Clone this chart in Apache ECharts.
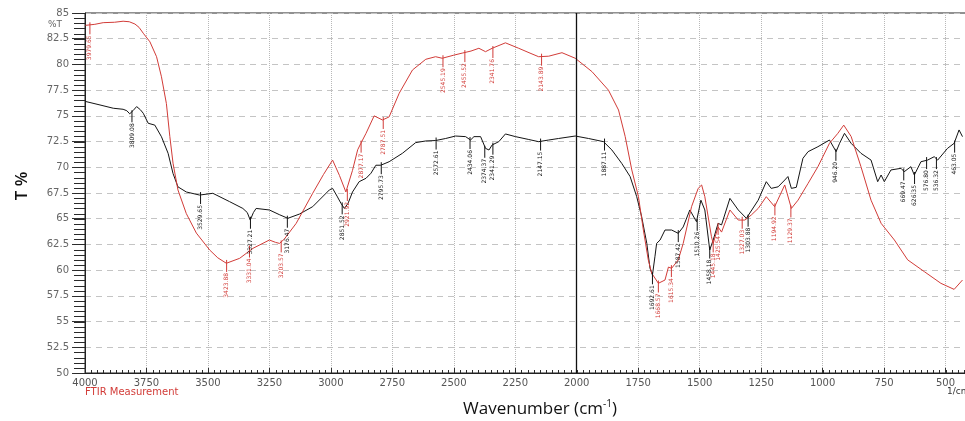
<!DOCTYPE html>
<html>
<head>
<meta charset="utf-8">
<script src="https://cdn.jsdelivr.net/npm/echarts@6/dist/echarts.min.js"></script>
<style>
html,body{margin:0;padding:0;background:#fff;overflow:hidden;width:965px;height:421px;}
#chart{width:1010px;height:421px;}
</style>
</head>
<body>
<div id="chart"></div>
<script>
// ---- data ----
const xTicks = [4000,3750,3500,3250,3000,2750,2500,2250,2000,1750,1500,1250,1000,750,500];
const yTicks = [85,82.5,80,77.5,75,72.5,70,67.5,65,62.5,60,57.5,55,52.5,50];

const redWn = [3998,3993,3960,3926,3880,3845,3820,3797,3780,3763,3736,3709,3689,3669,3655,3642,3622,3588,3547,3493,3460,3425,3371,3317,3250,3225,3209,3190,3141,3074,3030,2993,2965,2939,2912,2891,2878,2857,2824,2790,2763,2722,2668,2614,2574,2547,2500,2466,2430,2398,2371,2344,2290,2236,2190,2155,2114,2060,2006,1938,1871,1830,1803,1776,1749,1729,1709,1695,1668,1641,1627,1614,1587,1567,1533,1506,1492,1479,1452,1445,1425,1411,1377,1343,1316,1290,1262,1229,1195,1154,1127,1100,1059,1019,972,938,914,884,844,803,762,708,654,586,519,465,431];
const redT  = [83.8,83.83,83.9,84.06,84.1,84.2,84.15,83.93,83.6,83.03,82.2,80.75,78.8,76.2,73.0,70.4,67.8,65.5,63.6,61.96,61.2,60.67,61.15,62.12,62.93,62.7,62.6,63.0,64.55,67.47,69.3,70.7,69.2,67.6,69.7,71.7,72.33,73.3,75.0,74.6,74.9,77.2,79.46,80.5,80.75,80.6,80.9,81.1,81.3,81.57,81.24,81.57,82.1,81.57,81.1,80.75,80.8,81.14,80.6,79.3,77.5,75.57,73.0,69.74,67.14,63.9,61.0,59.7,58.72,59.04,60.3,60.18,61.0,62.6,66.17,67.95,68.28,67.14,63.25,62.6,64.2,63.7,65.85,64.87,64.87,65.36,66.0,67.14,66.17,68.28,66.0,66.8,68.44,70.06,72.33,73.3,74.1,73.0,70.06,66.8,64.55,62.93,61.0,59.85,58.72,58.13,59.04];

const blackWn = [3998,3939,3885,3845,3830,3818,3805,3790,3775,3763,3743,3716,3689,3662,3642,3622,3588,3534,3480,3412,3358,3340,3328,3315,3304,3250,3210,3175,3128,3074,3006,2993,2975,2959,2945,2930,2912,2885,2857,2837,2817,2797,2763,2709,2655,2614,2574,2533,2493,2452,2432,2418,2391,2371,2357,2344,2317,2290,2249,2195,2155,2114,2074,2006,1952,1891,1857,1817,1783,1756,1736,1715,1702,1692,1682,1675,1661,1641,1614,1587,1567,1540,1513,1495,1479,1459,1445,1425,1411,1377,1343,1310,1262,1229,1209,1181,1154,1141,1127,1107,1080,1059,1019,972,945,931,911,884,844,803,776,762,749,722,681,668,641,627,600,573,546,532,492,465,445,431];
const blackT  = [76.4,76.06,75.74,75.64,75.5,75.2,75.5,75.9,75.6,75.25,74.28,74.1,72.97,71.36,69.4,68.1,67.6,67.3,67.47,66.66,66.0,65.6,64.87,65.6,66.0,65.85,65.4,65.04,65.45,66.17,67.8,67.95,67.2,66.5,66.0,66.5,67.6,68.6,68.93,69.42,70.2,70.2,70.54,71.36,72.4,72.56,72.6,72.8,73.04,72.98,72.65,72.98,72.98,71.84,71.68,72.17,72.49,73.24,72.98,72.7,72.49,72.65,72.8,73.04,72.8,72.49,71.68,70.38,69.1,67.14,65.2,62.6,60.18,59.53,61.3,62.6,62.93,63.9,63.9,63.58,64.2,65.85,64.71,66.8,65.85,61.96,62.93,64.55,64.4,66.98,65.85,65.04,66.8,68.6,67.95,68.1,68.76,69.1,67.95,68.05,70.87,71.52,72.0,72.65,71.52,72.33,73.3,72.33,71.36,70.7,68.6,69.25,68.6,69.74,69.9,69.57,70.06,69.25,70.54,70.7,71.03,70.7,71.84,72.33,73.63,72.98];

// peak labels
const redPeakWn  = [3980,3424,3331,3202,2933,2877,2787,2544,2455,2341,2143,1668,1615,1445,1425,1327,1194,1129];
const redPeakT   = [83.8,60.7,62.1,62.6,67.6,72.3,74.6,80.6,81.1,81.5,80.75,58.7,60.2,62.6,64.3,64.9,66.2,66.0];
const redPeakTxt = ["3979.65","3423.88","3331.04","3203.57","2921.92","2877.17","2787.51","2545.19","2455.52","2341.76","2143.89","1668.57","1615.34","1445.18","1425.54","1327.03","1194.92","1129.37"];

const blackPeakWn  = [3809,3530,3327,3177,2954,2795,2572,2434,2374,2341,2147,1887,1692,1587,1510,1459,1303,946,670,626,577,537,463];
const blackPeakT   = [75.25,67.3,64.9,65.0,66.3,70.2,72.6,72.65,71.8,72.1,72.5,72.5,59.5,63.6,64.7,62.0,65.1,71.5,69.6,69.25,70.7,70.7,72.3];
const blackPeakTxt = ["3809.08","3529.65","3327.21","3176.47","2851.52","2795.73","2572.61","2434.06","2374.37","2341.29","2147.15","1887.11","1692.61","1587.42","1510.26","1458.18","1303.88","946.20","669.47","626.35","576.80","536.32","463.05"];

// minor tick positions of the axes (axis decoration)
const yMinorTicks = [];
for (let k = 0; k <= 70; k++) yMinorTicks.push(50 + k * 0.5);
const xMinorTicks = [];
for (let k = 0; k <= 143; k++) xMinorTicks.push(4000 - k * 25);

const RED = '#d23c38';
const BLACK = '#141414';

function pairs(xs, ys){ return xs.map((x,i)=>[x, ys[i]]); }

function peakSeries(name, wnArr, tArr, txtArr, color){
  return {
    name: name, type: 'custom', coordinateSystem: 'cartesian2d', silent: true, z: 6, clip: false,
    data: wnArr.map((w,i)=>[w, tArr[i], i]),
    encode: {x: 0, y: 1},
    renderItem: function(params, api){
      const p = api.coord([api.value(0), api.value(1)]);
      const i = api.value(2);
      return {type: 'group', children: [
        {type: 'line', shape: {x1: p[0], y1: p[1]-3, x2: p[0], y2: p[1]+9}, style: {stroke: color, lineWidth: 1}},
        {type: 'text', x: p[0], y: p[1]+10, rotation: Math.PI/2,
         style: {text: txtArr[i], fill: color, font: '6px "DejaVu Sans"', align: 'right', verticalAlign: 'middle'}}
      ]};
    }
  };
}

function minorSeries(name, vals, isY){
  return {
    name: name, type: 'custom', coordinateSystem: 'cartesian2d', silent: true, clip: false, z: 7,
    data: vals.map(v => isY ? [4000, v] : [v, 50]), encode: {x: 0, y: 1},
    renderItem: function(params, api){
      const p = api.coord([api.value(0), api.value(1)]);
      if (isY) {
        const y = Math.round(p[1]) + 0.5;
        return {type: 'line', shape: {x1: p[0] - 11, y1: y, x2: p[0], y2: y}, style: {stroke: '#2a2a2a', lineWidth: 1}};
      }
      const x = Math.round(p[0]) + 0.5;
      return {type: 'line', shape: {x1: x, y1: p[1], x2: x, y2: p[1] - 3}, style: {stroke: '#2a2a2a', lineWidth: 1}};
    }
  };
}

const chart = echarts.init(document.getElementById('chart'), null, {renderer: 'canvas'});
chart.setOption({
  animation: false,
  backgroundColor: '#fff',
  grid: {left: 85, right: 0, top: 13, bottom: 48, show: true, borderColor: '#222', borderWidth: 1, backgroundColor: 'transparent'},
  xAxis: {
    type: 'value', inverse: true, min: 250, max: 4000, interval: 250,
    axisLine: {show: true, lineStyle: {color: '#222', width: 1}},
    axisTick: {show: true, inside: true, length: 5, lineStyle: {color: '#333'}},
    axisLabel: {color: '#555', fontFamily: 'DejaVu Sans', fontSize: 10, margin: 5,
      formatter: v => xTicks.indexOf(v) >= 0 ? String(v) : ''},
    splitLine: {show: true, lineStyle: {color: '#b8b8b8', type: 'dotted', width: 1}}
  },
  yAxis: {
    type: 'value', min: 50, max: 85, interval: 2.5,
    axisLine: {show: true, lineStyle: {color: '#222', width: 1}},
    axisTick: {show: true, inside: false, length: 13, lineStyle: {color: '#333'}},
    axisLabel: {color: '#666', fontFamily: 'DejaVu Sans', fontSize: 10, margin: 16,
      formatter: v => yTicks.indexOf(v) >= 0 ? String(v) : ''},
    splitLine: {show: true, lineStyle: {color: '#c4c4c4', type: [6, 5], width: 1}}
  },
  graphic: [
    {type: 'text', left: 48, top: 20, style: {text: '%T', fill: '#666', font: '9px "DejaVu Sans"'}},
    {type: 'text', x: 22, y: 186, rotation: Math.PI/2,
     style: {text: 'T %', fill: '#111', font: '600 17px "Open Sans"', align: 'center', verticalAlign: 'middle'}},
    {type: 'text', x: 85, y: 392,
     style: {text: 'FTIR Measurement', fill: RED, font: '10px "DejaVu Sans"', align: 'left', verticalAlign: 'middle'}},
    {type: 'text', x: 947, y: 392,
     style: {text: '1/cm', fill: '#333', font: '9px "DejaVu Sans"', align: 'left', verticalAlign: 'middle'}},
    {type: 'text', x: 540, y: 409,
     style: {text: 'Wavenumber (cm{sup|-1})', fill: '#111', font: '17px "Open Sans"', align: 'center', verticalAlign: 'middle',
       rich: {sup: {fontSize: 10, fontFamily: 'Open Sans', verticalAlign: 'top', padding: [0, 0, 9, 0], fill: '#111'}}}}
  ],
  series: [
    {name: 'black', type: 'line', data: pairs(blackWn, blackT), showSymbol: false, symbol: 'none',
     lineStyle: {color: BLACK, width: 1}, itemStyle: {color: BLACK}, z: 3,
     markLine: {silent: true, symbol: 'none', label: {show: false},
       lineStyle: {color: '#111', type: 'solid', width: 1.3}, data: [{xAxis: 2000}]}},
    {name: 'red', type: 'line', data: pairs(redWn, redT), showSymbol: false, symbol: 'none',
     lineStyle: {color: RED, width: 1}, itemStyle: {color: RED}, z: 4},
    peakSeries('redPeaks', redPeakWn, redPeakT, redPeakTxt, RED),
    peakSeries('blackPeaks', blackPeakWn, blackPeakT, blackPeakTxt, BLACK),
    minorSeries('yMinor', yMinorTicks, true),
    minorSeries('xMinor', xMinorTicks, false)
  ]
});
</script>
</body>
</html>
